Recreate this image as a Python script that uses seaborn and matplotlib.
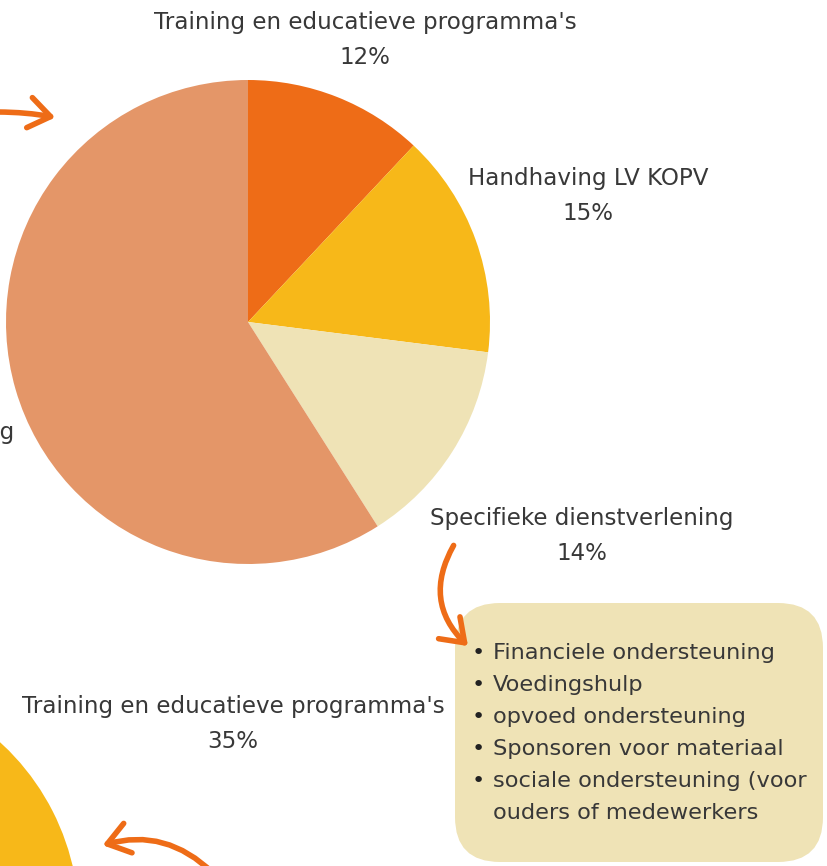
import matplotlib
matplotlib.use("Agg")
import matplotlib.pyplot as plt
import seaborn as sns
from matplotlib.patches import FancyBboxPatch, FancyArrowPatch

# ---- data ----
labels = ["Training en educatieve programma's", "Handhaving LV KOPV",
          "Specifieke dienstverlening", "Algemene dienstverlening"]
values = [12, 15, 14, 59]
colors = ["#EE6C17", "#F7B819", "#EFE3B6", "#E49668"]

bottom_labels = ["Training en educatieve programma's", "Overig"]
bottom_values = [35, 65]
bottom_colors = ["#F7B819", "#E49668"]

bullets = ["Financiele ondersteuning", "Voedingshulp", "opvoed ondersteuning",
           "Sponsoren voor materiaal", "sociale ondersteuning (voor",
           "ouders of medewerkers"]

# ---- figure ----
sns.set_theme(style="white")
plt.rcParams['font.family'] = ['DejaVu Sans']
W, H = 827, 866
fig = plt.figure(figsize=(W / 100, H / 100), dpi=100)
ax = fig.add_axes([0, 0, 1, 1])
TXT = "#383838"
ORANGE = "#EE6C17"
FS = 16.6
FSB = 16.2

def Y(y):
    return H - y

# main pie
ax.pie(values, colors=colors, startangle=90, counterclock=False,
       center=(248, Y(322)), radius=242, wedgeprops=dict(linewidth=0))
# bottom pie (partially visible)
ax.pie(bottom_values, colors=bottom_colors, startangle=90, counterclock=False,
       center=(-163, Y(921)), radius=242, wedgeprops=dict(linewidth=0))

ax.set_xlim(0, W)
ax.set_ylim(0, H)
ax.set_aspect('equal')
ax.axis('off')

# slice labels
def lab(x, y, name, pct):
    ax.text(x, Y(y), name, ha='center', va='center', fontsize=FS, color=TXT)
    ax.text(x, Y(y + 35), f"{pct}%", ha='center', va='center', fontsize=FS, color=TXT)

lab(365, 22, labels[0], values[0])
lab(588, 178, labels[1], values[1])
lab(582, 518, labels[2], values[2])
ax.text(14, Y(432), labels[3], ha='right', va='center', fontsize=FS, color=TXT)
lab(233, 706, bottom_labels[0], bottom_values[0])

# box
box = FancyBboxPatch((455 + 45, Y(862) + 45), 368 - 90, 259 - 90,
                     boxstyle="round,pad=45", fc="#EFE3B6", ec="none")
ax.add_patch(box)
for i, b in enumerate(bullets):
    yy = Y(653 + 32 * i)
    if i < 5:
        ax.text(478, yy, "\u2022", ha='center', va='center', fontsize=FSB, color="#222222")
    ax.text(493, yy, b, ha='left', va='center', fontsize=FSB, color=TXT)

# arrows
def arrow(p1, p2, rad):
    a = FancyArrowPatch((p1[0], Y(p1[1])), (p2[0], Y(p2[1])),
                        connectionstyle=f"arc3,rad={rad}",
                        arrowstyle="->,head_length=0.7,head_width=0.5",
                        mutation_scale=22, lw=4, color=ORANGE,
                        capstyle='round', joinstyle='round')
    ax.add_patch(a)

arrow((-5, 112), (58, 118), -0.05)
arrow((455, 543), (470, 648), 0.4)
arrow((215, 875), (100, 846), 0.3)

fig.savefig("out.png", dpi=100)
